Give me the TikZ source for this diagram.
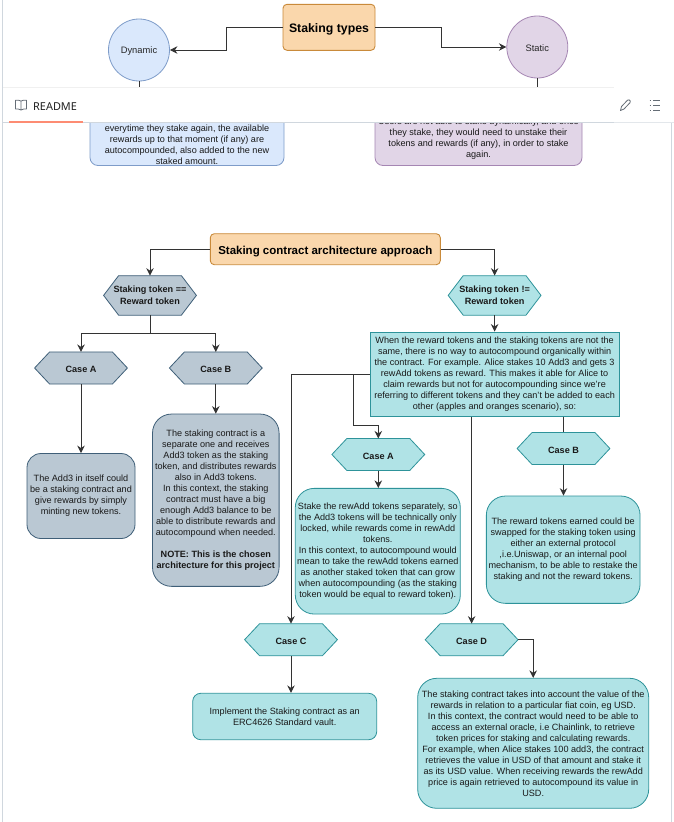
\documentclass[tikz,border=0pt]{standalone}
\usepackage{fontspec}
\setmainfont{Liberation Sans}
\newfontfamily\uifont{Noto Sans}
\usetikzlibrary{arrows.meta,shapes.geometric}
\definecolor{orF}{HTML}{FAD7AC}\definecolor{orS}{HTML}{C98A3A}
\definecolor{blF}{HTML}{DAE8FC}\definecolor{blS}{HTML}{7E9CC9}
\definecolor{puF}{HTML}{E1D5E7}\definecolor{puS}{HTML}{A586B3}
\definecolor{slF}{HTML}{BAC8D3}\definecolor{slS}{HTML}{3F5F78}
\definecolor{teF}{HTML}{B0E3E6}\definecolor{teS}{HTML}{2E939A}
\definecolor{edgeC}{HTML}{D0D7DE}\definecolor{lineC}{HTML}{333333}
\definecolor{accent}{HTML}{FD8C73}\definecolor{iconC}{HTML}{656D76}
\newdimen\hxa \newdimen\hxb \newdimen\hxc \newdimen\hxd \newdimen\hya \newdimen\hyb \newdimen\hyc
\makeatletter
\pgfdeclareshape{hexa}{
 \inheritsavedanchors[from=rectangle]
 \inheritanchorborder[from=rectangle]
 \inheritanchor[from=rectangle]{center}
 \inheritanchor[from=rectangle]{north}
 \inheritanchor[from=rectangle]{south}
 \inheritanchor[from=rectangle]{east}
 \inheritanchor[from=rectangle]{west}
 \backgroundpath{%
  \southwest \hxa=\pgf@x \hya=\pgf@y
  \northeast \hxb=\pgf@x \hyb=\pgf@y
  \hxc=\hxa \advance\hxc by 15pt
  \hxd=\hxb \advance\hxd by -15pt
  \hyc=.5\hya \advance\hyc by .5\hyb
  \pgfpathmoveto{\pgfqpoint{\hxa}{\hyc}}%
  \pgfpathlineto{\pgfqpoint{\hxc}{\hyb}}%
  \pgfpathlineto{\pgfqpoint{\hxd}{\hyb}}%
  \pgfpathlineto{\pgfqpoint{\hxb}{\hyc}}%
  \pgfpathlineto{\pgfqpoint{\hxd}{\hya}}%
  \pgfpathlineto{\pgfqpoint{\hxc}{\hya}}%
  \pgfpathclose
 }
}
\makeatother
\newcommand\toplift{\rule{0pt}{1.05em}}
\tikzset{
 lifted/.style={execute at begin node=\toplift},
 txt/.style={font=\fontsize{9.1}{11}\selectfont,align=center,text=black!90,inner sep=0pt},
 btxt/.style={font=\fontsize{9.1}{11.5}\selectfont\bfseries,align=center,text=black!90,inner sep=0pt},
 box/.style={draw,rectangle,inner sep=0pt,line width=.8pt,txt,lifted},
 hex/.style={draw,hexa,inner sep=0pt,minimum width=92pt,minimum height=31.3pt,line width=.8pt,btxt,lifted},
 hexS/.style={hex,fill=slF,draw=slS},
 hexT/.style={hex,fill=teF,draw=teS},
 conn/.style={draw=lineC,line width=1pt},
 arr/.style={conn,-{Stealth[length=7.5pt,width=7.5pt]}},
 titlebox/.style={draw=orS,fill=orF,rectangle,rounded corners=4pt,line width=.9pt,inner sep=0pt,
   align=center,text=black,lifted},
 circ/.style={ellipse,minimum width=61pt,minimum height=62pt,inner sep=0pt,line width=.8pt,
   font=\fontsize{9.35}{11}\selectfont,text=black!85,lifted},
}
\begin{document}
\begin{tikzpicture}[x=1pt,y=-1pt]
\useasboundingbox (0,0) rectangle (674,822);
\fill[white] (0,0) rectangle (674,822);
\draw[edgeC,line width=.8pt] (2.5,0) -- (2.5,822);
\draw[edgeC,line width=.8pt] (671.8,123) -- (671.8,822);

% Staking types
\node[titlebox,minimum width=92pt,minimum height=46pt,font=\fontsize{12.3}{14}\selectfont\bfseries] (types) at (329,27.3) {Staking types};
\node[circ,draw=blS,fill=blF] (dyn) at (139,50) {Dynamic};
\node[circ,draw=puS,fill=puF] (stat) at (537.3,47) {Static};
\coordinate (bl) at (226.5,27.3);\coordinate (br) at (441,27.3);
\draw[arr] (types.west) -- (bl) |- (dyn.east);
\draw[arr] (types.east) -- (br) |- (stat.west);
\node[box,draw=blS,fill=blF,rounded corners=8pt,minimum width=194pt,minimum height=75.5pt] (dbox) at (187,127.75) {};
\node[box,draw=puS,fill=puF,rounded corners=8pt,minimum width=207pt,minimum height=75.5pt] (sbox) at (478.5,127.75) {};
\coordinate (dtop) at (139,88);\coordinate (stop) at (537.3,88);
\draw[conn] (dyn.south) -- (dtop);
\draw[conn] (stat.south) -- (stop);
\node[txt,anchor=south] (dtext) at (187,164.6) {everytime they stake again, the available\\rewards up to that moment (if any) are\\autocompounded, also added to the new\\staked amount.};
\node[txt,anchor=south] (stext) at (478.5,159.6) {Users are not able to stake dynamically, and once\\they stake, they would need to unstake their\\tokens and rewards (if any), in order to stake\\again.};

% README bar
\fill[white] (3,87) rectangle (674,122.5);
\draw[black!6,line width=.5pt] (3,87) -- (614,87);
\draw[edgeC!60,line width=.9pt] (3,122.8) -- (674,122.8);
\draw[edgeC,line width=.9pt] (3,122.8) -- (614,122.8);
\fill[accent] (9,120.8) rectangle (83,123.2);
\node[anchor=west,inner sep=0pt,font=\uifont\fontsize{10.9}{12}\selectfont,text=black!88,lifted] (readme) at (33,105) {README};
% book icon
\draw[iconC,line width=.8pt,line join=round] (21,110) -- (21,101) .. controls (19.5,100) and (17,100) .. (15.5,100.2) -- (15.5,109) .. controls (17,108.8) and (19.5,109) .. (21,110) .. controls (22.5,109) and (25,108.8) .. (26.5,109) -- (26.5,100.2) .. controls (25,100) and (22.5,100) .. (21,101);
% pencil icon
\draw[iconC,line width=.8pt,line join=round] (620.5,110.5) -- (621.5,106.5) -- (627.5,100.2) .. controls (628.5,99.4) and (630,99.8) .. (630.3,101) .. controls (630.6,101.6) and (630.4,102.2) .. (630,102.7) -- (624,109) -- cycle;
% list icon
\foreach \yy in {100.5,105.5,110.5}{
 \draw[iconC,line width=.8pt] (649.5,\yy) -- (651,\yy);
 \draw[iconC,line width=.8pt] (653,\yy) -- (659.5,\yy);
}

% Architecture
\node[titlebox,minimum width=230pt,minimum height=31pt,font=\fontsize{11.5}{13}\selectfont\bfseries] (arch) at (325.3,249.2) {Staking contract architecture approach};
\node[hexS,minimum height=38.7pt] (eq) at (150,295.4) {Staking token ==\\Reward token};
\node[hexT,minimum height=38.7pt] (neq) at (494.6,295.4) {Staking token !=\\Reward token};
\coordinate (a1) at (150,249.2);\coordinate (a2) at (494.6,249.2);
\draw[arr] (arch.west) -- (a1) -- (eq.north);
\draw[arr] (arch.east) -- (a2) -- (neq.north);

\node[hexS] (la) at (81,368) {Case A};
\node[hexS] (lb) at (215.8,368) {Case B};
\coordinate (split) at (150,333.7);
\draw[conn] (eq.south) -- (split);
\draw[arr] (split) -| (la.north);
\draw[arr] (split) -| (lb.north);
\node[box,draw=slS,fill=slF,rounded corners=14pt,minimum width=108pt,minimum height=85pt] (labox) at (81,496) {The Add3 in itself could\\be a staking contract and\\give rewards by simply\\minting new tokens.};
\node[box,draw=slS,fill=slF,rounded corners=19pt,minimum width=126.6pt,minimum height=172.3pt] (lbbox) at (215.8,500.2) {The staking contract is a\\separate one and receives\\Add3 token as the staking\\token, and distributes rewards\\also in Add3 tokens.\\In this context, the staking\\contract must have a big\\enough Add3 balance to be\\able to distribute rewards and\\autocompound when needed.\\[11pt]\textbf{NOTE: This is the chosen}\\\textbf{architecture for this project}};
\draw[arr] (la.south) -- (labox.north);
\draw[arr] (lb.south) -- (lbbox.north);

\node[box,draw=teS,fill=teF,minimum width=249.3pt,minimum height=84.7pt] (big) at (494.6,374.3) {When the reward tokens and the staking tokens are not the\\same, there is no way to autocompound organically within\\the contract. For example. Alice stakes 10 Add3 and gets 3\\rewAdd tokens as reward. This makes it able for Alice to\\claim rewards but not for autocompounding since we're\\referring to different tokens and they can't be added to each\\other (apples and oranges scenario), so:};
\draw[arr] (neq.south) -- (big.north);

\node[hexT] (ra) at (378.3,454.5) {Case A};
\node[hexT] (rb) at (563.5,448.5) {Case B};
\node[hexT] (rc) at (291,639.7) {Case C};
\node[hexT] (rd) at (471.6,639.7) {Case D};
\node[box,draw=teS,fill=teF,rounded corners=19pt,minimum width=165pt,minimum height=125.7pt] (rabox) at (377.8,551.2) {Stake the rewAdd tokens separately, so\\the Add3 tokens will be technically only\\locked, while rewards come in rewAdd\\tokens.\\In this context, to autocompound would\\mean to take the rewAdd tokens earned\\as another staked token that can grow\\when autocompounding (as the staking\\token would be equal to reward token).};
\node[box,draw=teS,fill=teF,rounded corners=19pt,minimum width=153.7pt,minimum height=107.3pt] (rbbox) at (563.2,549.7) {The reward tokens earned could be\\swapped for the staking token using\\either an external protocol\\,i.e.Uniswap, or an internal pool\\mechanism, to be able to restake the\\staking and not the reward tokens.};
\node[box,draw=teS,fill=teF,rounded corners=8pt,minimum width=184pt,minimum height=46.4pt] (rcbox) at (284.7,716.5) {Implement the Staking contract as an\\ERC4626 Standard vault.};
\node[box,draw=teS,fill=teF,rounded corners=19pt,minimum width=231pt,minimum height=130pt] (rdbox) at (533.2,743.3) {The staking contract takes into account the value of the\\rewards in relation to a particular fiat coin, eg USD.\\In this context, the contract would need to be able to\\access an external oracle, i.e Chainlink, to retrieve\\token prices for staking and calculating rewards.\\For example, when Alice stakes 100 add3, the contract\\retrieves the value in USD of that amount and stake it\\as its USD value. When receiving rewards the rewAdd\\price is again retrieved to autocompound its value in\\USD.};

\coordinate (c1) at (353.3,374.3);\coordinate (c2) at (353.3,425.7);
\coordinate (c3) at (291,374.3);
\coordinate (c4) at (471.6,416.6);
\coordinate (c5) at (563.5,416.6);
\coordinate (c6) at (533.2,639.7);
\draw[conn] (big.west) -- (c1);
\draw[arr] (c1) -- (c2) -| (ra.north);
\draw[arr] (c1) -- (c3) -- (rc.north);
\draw[arr] (c4) -- (rd.north);
\draw[conn] (c5) -- (rb.north);
\draw[arr] (ra.south) -- (ra.south |- rabox.north);
\draw[arr] (rb.south) -- (rb.south |- rbbox.north);
\draw[arr] (rc.south) -- (rc.south |- rcbox.north);
\draw[arr] (rd.east) -- (c6) -- (rdbox.north);
\end{tikzpicture}
\end{document}
